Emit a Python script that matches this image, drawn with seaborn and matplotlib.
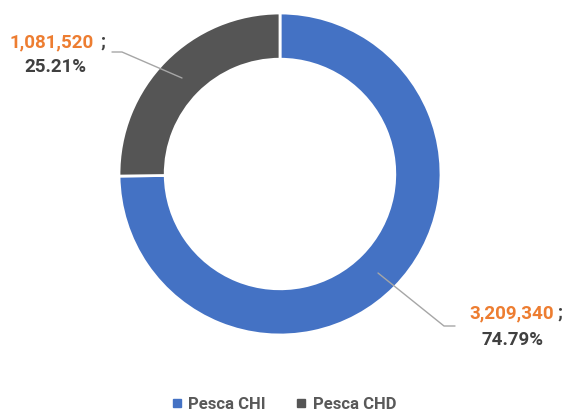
import matplotlib.pyplot as plt
import seaborn as sns
from matplotlib.lines import Line2D

categories = ['Pesca CHI', 'Pesca CHD']
values = [3209340, 1081520]
pct_labels = ['74.79%', '25.21%']
colors = ['#4472C4', '#555555']

sns.set_theme(style='white')
plt.rcParams['font.family'] = ['Roboto', 'DejaVu Sans']

fig = plt.figure(figsize=(5.63, 4.19), dpi=100)
# axes cover the whole figure; 1 data unit = outer radius (161 px)
R = 161.0
cx, cy = 280.0, 419 - 174.0
ax = fig.add_axes([0, 0, 1, 1])
ax.pie(values, colors=colors, startangle=90, counterclock=False, radius=1,
       wedgeprops=dict(width=0.287, edgecolor='white', linewidth=2))
ax.set_xlim(-cx / R, (563 - cx) / R)
ax.set_ylim(-cy / R, (419 - cy) / R)
ax.set_aspect('equal')
ax.axis('off')

orange = '#ED7D31'
dark = '#404040'
line_c = '#A6A6A6'
fs = 13.5


def px(x, y):
    # pixel position (from top-left) -> data coords
    return (x - cx) / R, (419 - y - cy) / R


def leader(points):
    xs, ys = zip(*[px(*p) for p in points])
    ax.plot(xs, ys, color=line_c, lw=1)


# CHD label (top-left)
leader([(112, 52), (122, 52), (182, 78)])
ax.text(*px(94, 42), f'{values[1]:,}', color=orange, fontsize=fs,
        fontweight='bold', ha='right', va='center')
ax.text(*px(103, 42), ';', color=dark, fontsize=fs, fontweight='bold',
        ha='center', va='center')
ax.text(*px(55, 67), pct_labels[1], color=dark, fontsize=fs,
        fontweight='bold', ha='center', va='center')

# CHI label (bottom-right)
leader([(378, 273), (444, 326), (455, 326)])
ax.text(*px(469, 313), f'{values[0]:,}', color=orange, fontsize=fs,
        fontweight='bold', ha='left', va='center')
ax.text(*px(560, 313), ';', color=dark, fontsize=fs, fontweight='bold',
        ha='center', va='center')
ax.text(*px(512, 340), pct_labels[0], color=dark, fontsize=fs,
        fontweight='bold', ha='center', va='center')

handles = [Line2D([], [], marker='s', ls='', color=c, markersize=6) for c in colors]
leg = fig.legend(handles, categories, loc='lower center', ncol=2, frameon=False,
                 bbox_to_anchor=(0.5, -0.018), handletextpad=0.1, columnspacing=1.5,
                 handlelength=1.2, prop=dict(size=12, weight='bold'))
for t in leg.get_texts():
    t.set_color('#595959')

fig.savefig('out.png', dpi=100)
